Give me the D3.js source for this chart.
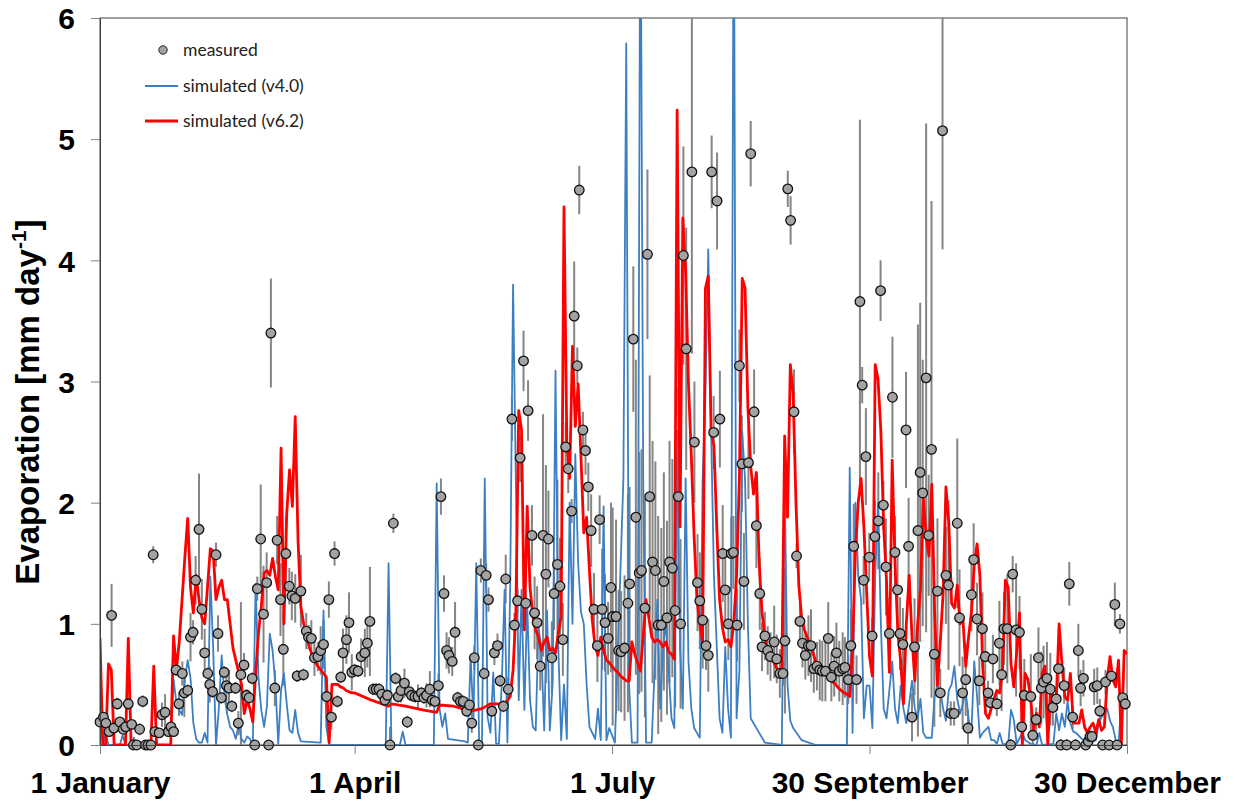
<!DOCTYPE html>
<html>
<head>
<meta charset="utf-8">
<script src="https://cdn.jsdelivr.net/npm/d3@7"></script>
<style>
  html, body { margin: 0; padding: 0; background: #fff; }
  svg { display: block; }
</style>
</head>
<body>
<svg id="chart" width="1235" height="802"></svg>
<script>
// ---- Daily evaporation, one year --------------------------------------

// x-axis ticks (day of year, 0 = 1 January) and their labels
const tickDays   = [0, 90, 181, 272, 363];
const tickLabels = ["1 January", "1 April", "1 July", "30 September", "30 December"];
const yTicks     = [0, 1, 2, 3, 4, 5, 6];

// simulated evaporation, model v6.2 [mm/day]
const v62Days = [0,1,2,3,4,5,9,10,11,18,19,20,25,26,27,28,29,30,31,32,33,34,35,36,37,38,39,40,41,42,43,44,45,46,47,48,49,50,51,52,53,54,55,56,57,58,59,60,61,62,63,64,65,66,67,68,69,70,71,72,73,74,75,76,77,78,79,80,81,82,83,84,85,86,87,88,89,90,96,102,103,108,114,119,120,125,131,135,138,143,145,146,147,148,149,150,151,152,153,154,155,156,157,158,159,160,161,162,163,164,165,166,167,168,169,170,171,172,173,174,175,176,177,178,179,180,181,182,183,184,185,186,187,188,189,190,191,192,193,194,195,196,197,198,199,200,201,202,203,204,205,206,207,208,209,210,211,212,213,214,215,216,217,218,219,220,221,222,223,224,225,226,227,228,229,230,231,232,233,234,235,236,237,238,239,240,241,242,243,244,245,246,247,248,249,250,251,252,253,254,255,256,257,258,259,260,261,262,263,264,265,266,267,268,269,270,271,272,273,274,275,276,277,278,279,280,281,282,283,284,285,286,287,288,289,290,291,292,293,294,295,296,297,298,299,300,301,302,303,304,305,306,307,308,309,310,311,312,313,314,315,316,317,318,319,320,321,322,323,324,325,326,327,328,329,330,331,332,333,334,335,336,337,338,339,340,341,342,343,344,345,346,347,348,349,350,351,352,353,354,355,356,357,358,359,360,361,362,363];
const v62Values = [0.88,0,0,0.67,0.62,0,0,0.88,0,0,0.65,0,0,0.9,0.62,0.85,1.2,1.55,1.87,1.3,1.09,1.4,1.2,1.05,1.0,1.3,1.62,1.6,1.2,1.3,1.36,1.2,1.2,1.0,0.8,0.7,0.6,0.5,0.26,0.37,0.3,0.19,0.59,0.92,1.14,1.42,1.44,1.4,1.54,1.39,1.28,2.45,1.0,1.91,2.27,1.97,2.71,1.69,1.14,1.0,0.89,0.81,0.74,0.69,0.65,0.62,0.59,0.56,0.02,0.5,0.5,0.5,0.48,0.47,0.45,0.44,0.43,0.43,0.37,0.32,0.34,0.32,0.29,0.27,0.33,0.32,0.28,0.3,0.34,0.34,0.4,0.62,1.1,2.76,2.6,0.95,1.97,1.3,1.06,0.95,0.89,0.78,0.85,0.89,0.78,0.8,0.76,0.92,1.06,4.44,2.5,2.2,3.29,2.63,2.98,2.38,1.75,1.88,1.44,1.03,0.81,0.74,0.89,0.78,0.7,0.68,0.65,0.62,0.6,0.57,0.55,0.53,0.53,0.85,0.75,0.68,0.61,0.9,1.2,1.05,0.89,0.85,0.87,0.85,0.81,0.85,0.77,0.75,0.71,5.24,1.8,4.35,3.9,2.98,2.39,1.72,1.2,1.0,0.85,3.77,3.87,2.59,2.47,1.8,1.2,0.97,0.85,0.87,0.81,1.0,1.4,2.2,3.85,3.77,2.79,2.3,2.07,2.25,1.5,1.09,0.9,0.78,0.72,0.69,0.64,0.61,0.6,2.55,1.88,3.14,2.9,2.0,1.32,1.05,0.95,0.89,0.82,0.76,0.69,0.65,0.62,0.6,0.57,0.55,0.52,0.5,0.47,0.45,0.43,0.42,0.4,0.81,1.6,2.0,2.2,1.8,1.25,0.73,0.57,3.14,3.02,2.59,1.8,1.36,0.6,2.35,1.5,0.93,0.69,0.34,1.0,1.4,0.89,0.53,1.0,1.28,2.04,1.72,1.56,2.15,1.1,0.49,0.85,1.25,2.13,1.84,1.17,1.13,1.32,1.0,1.04,0.65,0.89,1.09,1.48,1.66,1.4,0.65,0.26,0.22,0.3,0.38,0.45,0.43,0.62,1.36,1.3,0.67,0.48,0.76,1.09,0,0.59,0.54,0.37,0.12,0.26,0.15,0.59,0.65,0,0.48,0.29,0.37,1.0,0.67,0.4,0.37,0.59,0.18,0.18,0.18,0.29,0.15,0.1,0.15,0.18,0.1,0.21,0.12,0.15,0.54,0.73,0.54,0.48,0.7,0,0.78,0.75,0.59];

// simulated evaporation, model v4.0 [mm/day]
const v40Days = [0,1,2,3,7,8,9,11,12,13,25,26,27,28,29,30,31,32,33,34,35,36,37,38,39,40,41,42,43,44,45,46,47,48,49,50,51,52,53,54,55,56,57,58,59,60,61,62,63,64,65,66,67,68,69,70,71,78,79,80,81,101,102,103,106,107,108,118,119,120,121,122,123,129,130,131,132,133,134,135,136,137,138,139,140,141,142,143,144,145,146,147,148,149,150,151,152,153,154,155,156,157,158,159,160,161,162,163,164,165,166,167,168,169,170,171,172,173,174,175,176,177,178,179,180,182,185,186,187,188,190,191,192,193,195,196,197,198,199,200,201,202,203,204,205,206,207,208,209,210,211,212,213,214,215,216,217,218,219,220,221,222,223,224,225,226,227,228,229,230,231,233,235,241,242,243,244,245,248,253,264,265,266,267,268,269,270,271,272,273,274,275,276,277,278,279,280,281,282,283,284,285,286,287,288,289,290,291,292,294,295,296,297,298,299,300,301,302,303,304,305,306,307,308,309,310,311,312,314,315,316,317,318,319,321,322,323,324,326,327,329,331,332,333,337,338,339,340,341,342,343,344,345,347,348,349,350,351,352,353,354,356,357,358,359,360,361,362,363];
const v40Values = [0.25,0,0.1,0,0,0.08,0,0,0.06,0,0,0.54,0.35,0.29,0.25,0.54,0.7,0.55,0.18,0.05,0.02,0.02,0.1,0.02,1.39,0.8,0,0.3,0.74,0.4,0.25,0.15,0.12,0.05,0.17,0.05,0.02,0.07,0.05,0,1.33,0.56,0.29,0.15,0.32,0.92,0.78,0.5,0.01,0.45,0.59,0.34,0.12,0.1,0.29,0.1,0.03,0.02,1.11,0.15,0,0,1.5,0,0,0.11,0,0,2.16,0.3,0.15,0.26,0.05,0.03,0.02,0.73,0.2,1.5,0.02,0,2.2,0.23,0.1,0.6,0.01,0.01,0.5,1.28,0.02,1.33,3.8,2.16,0.37,1.28,0.29,1.17,0.37,0.15,0.12,0.98,0.78,0.12,1.11,0.12,0.51,3.09,0.8,0.04,0.5,0.05,2.0,1.0,2.4,1.5,1.1,1.0,0.5,0.15,0.1,0.05,0.3,0.04,1.97,0.04,0.14,0.02,2.2,5.79,0.5,0.02,0.02,7.5,2.2,0.02,0.02,0.61,1.2,0.3,0.81,1.0,0.61,0.22,0.14,2.59,0.8,0.3,2.2,0.69,0.3,0.14,0.1,0.06,2.19,2.9,4.09,2.59,1.4,0.81,0.22,0.1,0.81,0.3,0.06,7.5,0.22,0.61,2.59,2.19,1.0,0.22,0.18,0.1,0.02,0,2.19,0.5,0.2,0.14,0.04,0,0,2.29,0.1,2.0,1.4,1.2,0.22,0.49,0.49,0.14,1.4,2.0,1.0,0.3,0.22,0.45,0.69,0.3,0.18,0.49,0.3,0.18,0.34,0.53,0.3,0.22,0.38,0.1,0.06,0.06,0.41,0.49,0.45,0.3,0.2,0.45,0.5,0.65,0.38,0.26,0.34,0.45,0.22,0.1,0.69,0.4,0.06,0.1,0.15,0.04,0.04,0.01,0.1,0.01,0,0.29,0.21,0.01,0.1,0.04,0.01,0,0.1,0,0.01,0.26,0.12,0.26,0.15,0.36,0.18,0.11,0.1,0.05,0.04,0.1,0.01,0.03,0.04,0.18,0.23,0.3,0.2,0.15,0.04,0,0.37,0.4,0.35];

// measured evaporation: day, value and error-bar half width [mm/day]
const measuredDays = [0,1.2,2.1,3.2,4.1,4.9,6.1,7,8.2,9.1,10,11.2,11.8,13,14,15.1,16.1,17,18,18.8,19.4,20.9,21.9,23,24.2,25.1,26,26.9,27.9,29.1,29.8,31,32,32.9,33.8,35,36,37,38.1,38.8,39.8,41,41.7,42.9,43.9,44.7,45.6,46.6,47.9,48.9,49.8,50.9,51.8,52.7,53.8,54.7,55.6,56.8,57.8,58.9,59.6,60.4,61.8,62.6,63.8,64.8,65.7,66.9,67.8,69,69.7,71,71.9,72.9,73.7,74.7,75.8,77,78,79,80.1,80.9,81.8,82.9,83.9,85.1,85.9,87.1,88,89,90,91.2,92.3,93.6,94.5,95.4,96.6,97.6,98.6,99.6,100.7,101.6,102.5,103.7,104.5,105.4,106.4,107.6,108.6,109.3,110.1,111.3,112.4,113.6,114.5,115.4,116.6,117.4,118.4,119.6,120.5,121.6,122.5,123.3,124.5,125.5,126.4,127.4,128.4,129.6,130.6,131.4,132.3,133.7,134.6,135.8,136.5,137.3,138.5,139.4,140.5,141.4,142.6,143.4,144.3,145.6,146.5,147.6,148.5,149.7,150.5,151.3,152.7,153.6,154.5,155.6,156.6,157.6,158.5,159.7,160.5,161.7,162.6,163.6,164.6,165.5,166.7,167.6,168.7,169.4,170.7,171.6,172.6,173.6,174.6,175.8,176.6,177.5,178.5,179.6,180.6,181.2,182.4,183.3,184.2,185.4,186.6,187.2,188.5,189.4,190.6,191.4,192.6,193.5,194.3,195.3,196.3,197.3,198.4,199.3,200.4,201.3,202.3,203.3,204.4,205.2,206.2,207.2,209.2,210.1,211.2,212,213,214.2,215,216.2,216.9,218.1,219.1,220.1,221,222.1,223.1,223.9,225.2,226,226.9,227.6,229.2,230,231.2,232,233.2,234,235,236,237,238.3,239.2,240.3,241.4,242.1,243.1,244.1,245.3,246.2,247.4,248.3,249.3,250.4,251.3,252.3,253.4,254.4,255.3,256.4,257.4,258.5,259.5,260.3,261.3,262.5,263.3,264.5,265.4,266.4,267.4,268.6,269.4,269.9,270.7,271.9,272.9,273.9,275.1,275.9,276.9,277.8,279,280.1,281,281.9,282.8,283.8,284.9,285.8,287,287.9,289.1,289.9,290.8,292,292.9,293.9,294.9,296,297,297.8,299,299.9,300.7,301.9,303,303.8,304.9,306,306.8,308,308.8,310,310.8,311.9,312.9,313.9,314.7,315.6,317,317.9,318.7,319.5,320.7,321.9,322.6,323.8,325,325.8,326.7,329,329.7,330.9,331.7,332.7,333.5,334.7,335.9,336.8,338,338.8,339.6,340.8,341.7,342.6,343.8,344.8,345.8,346.6,347.6,348.4,349.3,349.9,350.6,351.4,352.5,353.4,354.4,355.4,356.7,357.5,358.7,359.5,360.5,361.5,362.4];
const measuredValues = [0.19,0.23,0.18,0.11,1.07,0.14,0.34,0.19,0.13,0.15,0.34,0.17,0,0,0.13,0.36,0,0,0,1.57,0.11,0.1,0.25,0.27,0.11,0.15,0.11,0.62,0.34,0.59,0.43,0.45,0.89,0.93,1.36,1.78,1.12,0.76,0.59,0.5,0.44,1.57,0.92,0.39,0.6,0.49,0.47,0.32,0.47,0.18,0.58,0.66,0.41,0.39,0.55,0,1.29,1.7,1.08,1.34,0,3.4,0.47,1.69,1.2,0.79,1.58,1.31,1.23,1.21,0.57,1.27,0.58,0.94,0.89,0.88,0.72,0.73,0.78,0.83,0.4,1.2,0.23,1.58,0.36,0.56,0.76,0.87,1.01,0.6,0.62,0.61,0.73,0.76,0.84,1.02,0.46,0.46,0.46,0.42,0.37,0.41,0,1.83,0.55,0.4,0.45,0.51,0.19,0.44,0.41,0.4,0.4,0.43,0.39,0.41,0.46,0.37,0.36,0.49,2.05,1.25,0.78,0.74,0.69,0.93,0.39,0.36,0.36,0.28,0.33,0.18,0.72,0,1.44,0.59,1.4,1.2,0.28,0.76,0.82,0.53,0.32,1.37,0.46,2.69,0.99,1.19,2.37,3.17,1.17,2.76,1.73,1.09,1.01,0.65,1.73,1.41,1.7,0.72,1.25,1.49,1.31,0.87,2.46,2.28,1.93,3.54,3.13,4.58,2.6,2.43,2.13,1.77,1.12,0.82,1.86,1.12,1.01,0.88,1.3,1.06,1.06,0.78,0.77,0.8,1.17,1.33,3.35,1.88,1.42,1.44,1.13,4.05,2.05,1.51,1.44,0.99,0.99,1.35,1.05,1.51,1.46,1.11,2.05,1.0,4.04,3.27,4.73,2.5,1.34,1.19,1.03,0.82,0.74,4.73,2.58,4.49,2.69,1.58,1.28,1.0,1.58,1.59,0.99,3.13,2.32,1.35,2.33,4.88,2.75,1.81,1.25,0.81,0.9,0.78,0.73,0.85,0.71,0.59,0.59,0.86,4.59,4.33,2.75,1.56,1.02,0.84,0.74,0.82,0.82,0.63,0.65,0.62,0.61,0.61,0.88,0.56,0.65,0.76,0.61,0.63,0.64,0.54,0.82,1.64,0.54,3.66,2.97,1.36,2.38,1.55,0.9,1.72,1.85,3.75,1.98,1.47,0.92,2.87,1.59,1.28,0.92,0.83,2.6,1.64,0.23,0.81,1.77,2.25,2.08,3.03,1.73,2.44,0.75,1.27,0.43,5.07,1.4,1.32,0.26,0.26,1.83,1.05,0.43,0.54,0.14,1.24,1.53,1.04,0.53,0.96,0.73,0.43,0.35,0.71,0.34,0.84,0.58,0.96,0.96,0,1.41,0.95,0.93,0.15,0.41,0.4,0.08,0.21,0.72,0.47,0.52,0.55,0.46,0.31,0.38,0.63,0,0.49,0,1.33,0.23,0,0.78,0.47,0.55,0,0.03,0.07,0.07,0.48,0.49,0.28,0,0.52,0,0.57,1.16,0,1.0,0.39,0.34];
const measuredErrors = [0.02,0.03,0,0,0.26,0,0.05,0,0,0,0.05,0,0,0,0.05,0.05,0,0,0,0.07,0,0,0.1,0.15,0,0.05,0,0.05,0.1,0.1,0.2,0.05,0.2,0.1,0.2,0.46,0.25,0.2,0.05,0.15,0.05,0.1,0.15,0.05,0.05,0.15,0.15,0.05,0.05,0.1,0.6,0.1,0.05,0.05,0.05,0,0.1,0.45,0.4,0.25,0,0.45,0.15,0.2,0.3,0.3,0.3,0.15,0.2,0.2,0.05,0.3,0.05,0.15,0.1,0.15,0.15,0.12,0.2,0.2,0.05,0.15,0.1,0.1,0.05,0.05,0.2,0.2,0.25,0.15,0.05,0.05,0.15,0.2,0.2,0.45,0.05,0.05,0.05,0.05,0.05,0.05,0.15,0.08,0.05,0.05,0.1,0.12,0.05,0.05,0.05,0.05,0.1,0.05,0.05,0.1,0.15,0.05,0.05,0.1,0.15,0.15,0.15,0.15,0.12,0.25,0.05,0.05,0.05,0.05,0.05,0.08,0.1,0.05,0.1,0.05,0.1,0.1,0.05,0.1,0.1,0.05,0.05,0.2,0.1,0.18,0.1,0.1,0.2,0.25,0.1,0.25,0.25,0.3,0.3,0.2,1.0,0.9,0.4,0.3,0.3,0.7,0.4,0.3,0.2,0.2,0.1,0.45,0.15,0.2,0.15,0.2,0.2,0.3,0.3,0.3,0.2,0.5,0.4,0.3,0.7,0.9,0.8,0.5,0.5,0.6,0.9,0.8,0.6,1.3,1.0,1.0,0.9,0.7,1.0,1.0,0.9,0.9,0.8,0.9,0.8,1.0,0.9,0.8,0.9,0.7,0.9,1.0,1.5,0.5,0.4,0.4,0.4,0.2,0.3,0.3,0.3,0.4,0.4,0.4,0.3,0.3,0.3,0.3,0.3,0.3,0.4,0.4,0.3,0.27,0.35,0.35,0.3,0.2,0.2,0.2,0.2,0.3,0.2,0.2,0.1,0.6,0.15,0.2,0.35,0.1,0.15,0.2,0.2,0.25,0.3,0.2,0.2,0.25,0.25,0.25,0.3,0.2,0.25,0.25,0.25,0.3,0.25,0.2,0.3,0.35,0.2,1.5,0.15,0.2,0.4,0.2,0.15,0.3,0.4,0.25,0.2,0.4,0.3,0.5,0.3,0.3,0.3,0.3,0.48,0.4,0.2,0.4,1.7,1.4,1.1,2.1,0.5,2.05,0.6,0.6,0.2,0.98,0.4,0.7,0.1,0.1,0.7,0.4,0.3,0.3,0.15,0.3,0.3,0.3,0.2,0.3,0.2,0.1,0.1,0.2,0.1,0.35,0.3,0.3,0.45,0.05,0.15,0.55,0.3,0.1,0.3,0.35,0.1,0.1,0.25,0.3,0.3,0.3,0.3,0.15,0.1,0.15,0.05,0.15,0.05,0.18,0.1,0.05,0.22,0.15,0.15,0,0,0.05,0.05,0.15,0.15,0.1,0,0.1,0,0.05,0.18,0,0.08,0.1,0.05];

// ---- layout -----------------------------------------------------------
const plot = { left: 100, right: 1127, top: 18, bottom: 745 };

const svg = d3.select("#chart");

const x = d3.scaleLinear().domain([0, 363]).range([plot.left, plot.right]);
const y = d3.scaleLinear().domain([0, 6]).range([plot.bottom, plot.top]);

svg.append("defs").append("clipPath").attr("id", "plot-clip")
  .append("rect")
  .attr("x", plot.left).attr("y", plot.top)
  .attr("width", plot.right - plot.left).attr("height", plot.bottom - plot.top);

// plot frame
svg.append("rect")
  .attr("x", plot.left).attr("y", plot.top)
  .attr("width", plot.right - plot.left).attr("height", plot.bottom - plot.top)
  .attr("fill", "none").attr("stroke", "#404040").attr("stroke-width", 1);

const marks = svg.append("g").attr("clip-path", "url(#plot-clip)");

const measured = measuredDays.map((d, i) => ({ day: d, value: measuredValues[i], err: measuredErrors[i] }));

// error bars
marks.append("g").selectAll("line").data(measured.filter(d => d.err > 0)).join("line")
  .attr("x1", d => x(d.day)).attr("x2", d => x(d.day))
  .attr("y1", d => y(Math.max(0, d.value - d.err)))
  .attr("y2", d => y(d.value + d.err))
  .attr("stroke", "#858585").attr("stroke-width", 2);

const lineGen = d3.line().x(d => x(d[0])).y(d => y(d[1]));

// model v4.0
marks.append("path")
  .datum(v40Days.map((d, i) => [d, v40Values[i]]))
  .attr("d", lineGen)
  .attr("fill", "none").attr("stroke", "#3d7fc3").attr("stroke-width", 1.8)
  .attr("stroke-linejoin", "round");

// model v6.2
marks.append("path")
  .datum(v62Days.map((d, i) => [d, v62Values[i]]))
  .attr("d", lineGen)
  .attr("fill", "none").attr("stroke", "#ff0000").attr("stroke-width", 2.8)
  .attr("stroke-linejoin", "round");

// measured points
svg.append("g").selectAll("circle").data(measured).join("circle")
  .attr("cx", d => x(d.day)).attr("cy", d => y(d.value))
  .attr("r", 4.8)
  .attr("fill", "#a3a3a3").attr("stroke", "#111").attr("stroke-width", 1.3);

// ---- axes ---------------------------------------------------------------
const tickFont = "'Liberation Sans', Arial, sans-serif";

const yAxis = svg.append("g")
  .attr("transform", `translate(${plot.left},0)`)
  .call(d3.axisLeft(y).tickValues(yTicks).tickFormat(d3.format("d")).tickSize(9).tickPadding(16));
const xAxis = svg.append("g")
  .attr("transform", `translate(0,${plot.bottom})`)
  .call(d3.axisBottom(x).tickValues(tickDays).tickFormat((d, i) => tickLabels[i]).tickSize(9).tickPadding(16));

[yAxis, xAxis].forEach(ax => {
  ax.select(".domain").attr("stroke", "#404040");
  ax.selectAll(".tick line").attr("stroke", "#808080");
  ax.selectAll(".tick text")
    .attr("font-family", tickFont).attr("font-weight", "bold")
    .attr("font-size", 30).attr("fill", "#000");
});
yAxis.selectAll(".tick text").attr("dy", "0.36em");
xAxis.selectAll(".tick text").attr("dy", "0.75em");

// y-axis title
const title = svg.append("text")
  .attr("transform", "translate(39,402) rotate(-90)")
  .attr("text-anchor", "middle")
  .attr("font-family", tickFont).attr("font-weight", "bold")
  .attr("font-size", 33).attr("fill", "#000");
title.append("tspan").text("Evaporation [mm day");
title.append("tspan").attr("font-size", 21).attr("dy", -13).text("-1");
title.append("tspan").attr("dy", 13).text("]");

// ---- legend ---------------------------------------------------------------
const legendFont = "Lato, 'Open Sans', sans-serif";
const legend = svg.append("g");
legend.append("circle").attr("cx", 163).attr("cy", 50).attr("r", 4.2)
  .attr("fill", "#a3a3a3").attr("stroke", "#222").attr("stroke-width", 1);
legend.append("line").attr("x1", 145).attr("x2", 178).attr("y1", 86).attr("y2", 86)
  .attr("stroke", "#3d7fc3").attr("stroke-width", 1.8);
legend.append("line").attr("x1", 145).attr("x2", 178).attr("y1", 121).attr("y2", 121)
  .attr("stroke", "#ff0000").attr("stroke-width", 2.8);
[["measured", 50], ["simulated (v4.0)", 86], ["simulated (v6.2)", 121]].forEach(([t, ly]) => {
  legend.append("text").attr("x", 183).attr("y", ly + 6)
    .attr("font-family", legendFont).attr("font-size", 17.5).attr("fill", "#222").text(t);
});
</script>
</body>
</html>
